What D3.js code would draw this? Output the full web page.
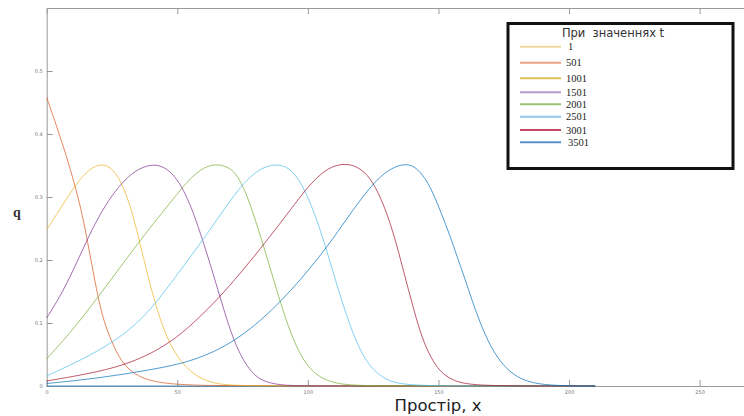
<!DOCTYPE html>
<html>
<head>
<meta charset="utf-8">
<script src="https://cdn.jsdelivr.net/npm/d3@7"></script>
<style>
  body { margin: 0; background: #fff; }
  svg { display: block; }
</style>
</head>
<body>
<div id="chart"></div>
<script>
// значення t для кожної кривої
const tValues = ['1', '501', '1001', '1501', '2001', '2501', '3001', '3501'];

// q(x) при кожному t, пари [x, q]
const q1 = [[0, 0], [210, 0]];
const q501 = [[0, 0.458], [3, 0.422], [6, 0.385], [9, 0.345], [12, 0.300], [14, 0.265], [16.6, 0.208],
  [19.2, 0.150], [21, 0.117], [23, 0.089], [26.8, 0.052], [30, 0.032], [34, 0.018], [38.3, 0.010],
  [45, 0.004], [55, 0.0015], [70, 0], [210, 0]];
const q1001 = [[0, 0.248], [5, 0.280], [10, 0.313], [15, 0.340], [20, 0.353], [24, 0.349], [27, 0.335],
  [30, 0.310], [33, 0.272], [36, 0.222], [39.6, 0.160], [43.4, 0.105], [47.2, 0.066], [51.1, 0.040],
  [56.2, 0.018], [62.6, 0.005], [70, 0.001], [85, 0], [210, 0]];
const q1501 = [[0, 0.108], [5, 0.141], [10, 0.182], [15, 0.228], [20, 0.270], [25, 0.303], [30, 0.328],
  [35, 0.345], [41, 0.353], [46, 0.346], [50, 0.328], [53, 0.306], [56.2, 0.275], [60, 0.228], [63, 0.188],
  [66.4, 0.141], [69, 0.105], [71.5, 0.075], [74, 0.051], [76.6, 0.032], [80, 0.015], [84, 0.006],
  [90, 0.001], [100, 0], [210, 0]];
const q2001 = [[0, 0.043], [10, 0.089], [20, 0.143], [30, 0.199], [38, 0.243], [44, 0.274], [50, 0.305],
  [55, 0.330], [60, 0.347], [65, 0.353], [70, 0.347], [73, 0.334], [76, 0.310], [79, 0.275], [82, 0.236],
  [85, 0.195], [88, 0.153], [91, 0.113], [94, 0.078], [97, 0.051], [100, 0.031], [104, 0.015], [110, 0.004],
  [118, 0.001], [130, 0], [210, 0]];
const q2501 = [[0, 0.016], [10, 0.035], [20, 0.056], [30, 0.083], [38, 0.113], [45, 0.149], [52, 0.188],
  [60, 0.233], [67, 0.275], [73, 0.310], [78, 0.333], [83, 0.348], [89, 0.353], [94, 0.343], [98, 0.318],
  [101, 0.290], [104, 0.257], [107, 0.218], [110, 0.176], [113, 0.135], [116, 0.098], [119, 0.066],
  [122, 0.042], [125, 0.026], [129, 0.012], [134, 0.004], [142, 0.001], [155, 0], [210, 0]];
const q3001 = [[0, 0.008], [10, 0.015], [20, 0.023], [30, 0.034], [40, 0.051], [50, 0.077], [58, 0.107],
  [66, 0.140], [74, 0.178], [82, 0.219], [89, 0.256], [95, 0.289], [100, 0.316], [105, 0.337], [109, 0.348],
  [113.5, 0.353], [118, 0.350], [122, 0.339], [125, 0.322], [128, 0.298], [131, 0.265], [134, 0.225],
  [137, 0.176], [140, 0.130], [143, 0.085], [146, 0.054], [149, 0.032], [152, 0.018], [156, 0.008],
  [161, 0.003], [168, 0.001], [180, 0], [210, 0]];
const q3501 = [[0, 0.004], [10, 0.008], [20, 0.013], [30, 0.019], [40, 0.026], [50, 0.034], [58, 0.044],
  [66, 0.058], [74, 0.078], [82, 0.104], [90, 0.136], [97, 0.168], [104, 0.203], [110, 0.236], [116, 0.272],
  [122, 0.306], [127, 0.330], [132, 0.346], [137, 0.353], [141, 0.349], [145, 0.330], [148, 0.306],
  [151, 0.275], [154.5, 0.238], [157, 0.207], [160, 0.172], [163, 0.134], [166, 0.100], [169, 0.071],
  [172, 0.049], [175, 0.032], [179, 0.017], [184, 0.007], [190, 0.002], [200, 0], [210, 0]];

const seriesData = [q1, q501, q1001, q1501, q2001, q2501, q3001, q3501];

// поділки осей
const xTicks = [0, 50, 100, 150, 200, 250];
const yTicks = [0, 0.1, 0.2, 0.3, 0.4, 0.5];

// кольори
const lineColors = ['#0072BD', '#D95319', '#EDB120', '#7E2F8E', '#77AC30', '#4DBEEE', '#A2142F', '#0072BD'];
const legendColors = ['#f3d7a2', '#eca184', '#dfc151', '#b99bd2', '#9cc271', '#92c9e9', '#c14a6a', '#5a92c8'];
const legendRowY = [46.7, 62.7, 78.3, 92.3, 104.3, 116.7, 130, 142.3];

// svg
const svgWidth = 744;
const svgHeight = 416;
const svg = d3.select('#chart')
  .append('svg')
  .attr('width', svgWidth)
  .attr('height', svgHeight);

svg.append('rect')
  .attr('width', svgWidth)
  .attr('height', svgHeight)
  .attr('fill', '#fff');

// область графіка
const plot = { left: 46.7, right: 743.5, top: 8, bottom: 386 };

const xScale = d3.scaleLinear().domain([0, 266.8]).range([plot.left, plot.right]);
const yScale = d3.scaleLinear().domain([0, 0.6]).range([plot.bottom, plot.top]);

// осі
const axisColor = '#9a9a9a';

function styleAxis(g) {
  g.select('.domain').attr('stroke', axisColor).attr('stroke-width', 1);
  g.selectAll('.tick line').attr('stroke', axisColor).attr('stroke-width', 1);
  g.selectAll('.tick text')
    .attr('fill', '#777')
    .attr('font-size', '5px')
    .attr('font-family', 'DejaVu Sans, sans-serif');
}

svg.append('g')
  .attr('transform', `translate(0,${plot.bottom})`)
  .call(d3.axisBottom(xScale).tickValues(xTicks).tickSizeInner(-6).tickSizeOuter(0).tickPadding(4))
  .call(styleAxis);

svg.append('g')
  .attr('transform', `translate(0,${plot.top})`)
  .call(d3.axisTop(xScale).tickValues(xTicks).tickSizeInner(-6).tickSizeOuter(0).tickFormat(''))
  .call(styleAxis);

svg.append('g')
  .attr('transform', `translate(${plot.left},0)`)
  .call(d3.axisLeft(yScale).tickValues(yTicks).tickSizeInner(-6).tickSizeOuter(0).tickPadding(4)
    .tickFormat(d3.format('')))
  .call(styleAxis);

// криві
const line = d3.line()
  .x(d => xScale(d[0]))
  .y(d => yScale(d[1]))
  .curve(d3.curveBasis);

svg.append('g')
  .selectAll('path')
  .data(seriesData)
  .join('path')
  .attr('d', line)
  .attr('fill', 'none')
  .attr('stroke', (d, i) => lineColors[i])
  .attr('stroke-opacity', 0.7)
  .attr('stroke-width', 1);

// підписи осей
svg.append('text')
  .attr('x', 438)
  .attr('y', 410.5)
  .attr('text-anchor', 'middle')
  .attr('font-family', 'DejaVu Sans, sans-serif')
  .attr('font-size', '16.5px')
  .attr('fill', '#222')
  .text('Простір, x');

svg.append('text')
  .attr('x', 17)
  .attr('y', 217)
  .attr('text-anchor', 'middle')
  .attr('font-family', 'Liberation Serif, serif')
  .attr('font-weight', 'bold')
  .attr('font-size', '14px')
  .attr('fill', '#333')
  .text('q');

// легенда
const legend = svg.append('g');

legend.append('rect')
  .attr('x', 508)
  .attr('y', 23.5)
  .attr('width', 225)
  .attr('height', 145)
  .attr('fill', '#fff')
  .attr('stroke', '#111')
  .attr('stroke-width', 3);

legend.append('text')
  .attr('x', 613)
  .attr('y', 36.5)
  .attr('text-anchor', 'middle')
  .attr('font-family', 'DejaVu Sans, sans-serif')
  .attr('font-size', '11.5px')
  .attr('fill', '#333')
  .attr('xml:space', 'preserve')
  .text('При  значеннях t');

const rows = legend.selectAll('g.row')
  .data(tValues)
  .join('g')
  .attr('class', 'row')
  .attr('transform', (d, i) => `translate(0,${legendRowY[i]})`);

rows.append('line')
  .attr('x1', 520)
  .attr('x2', 561)
  .attr('stroke', (d, i) => legendColors[i])
  .attr('stroke-width', 2);

rows.append('text')
  .attr('x', (d, i) => (i === 0 || i === 7) ? 568 : 566)
  .attr('y', 3.5)
  .attr('font-family', 'Liberation Serif, serif')
  .attr('font-size', '10.5px')
  .attr('fill', '#222')
  .text(d => d);
</script>
</body>
</html>
